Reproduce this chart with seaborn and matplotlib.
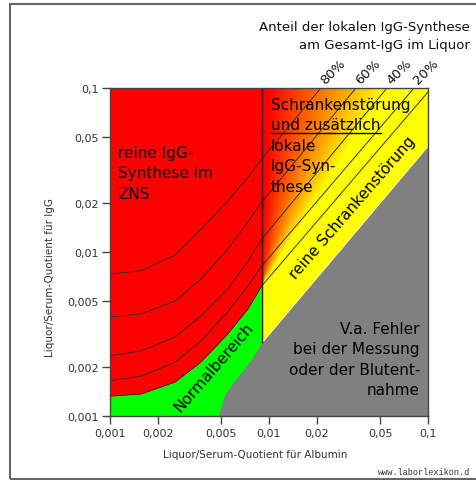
import numpy as np
import pandas as pd
import matplotlib
matplotlib.use("Agg")
import matplotlib.pyplot as plt
import seaborn as sns
from matplotlib.patches import Polygon, Rectangle
from matplotlib.lines import Line2D
from matplotlib.colors import LinearSegmentedColormap

# ---------------- data ----------------
tick_values = [0.001, 0.002, 0.005, 0.01, 0.02, 0.05, 0.1]
tick_labels = ["0,001", "0,002", "0,005", "0,01", "0,02", "0,05", "0,1"]

# Albumin quotient sample points of the curved part (left of the border line)
q_alb_curve = [0.001, 0.00157, 0.00257, 0.00373, 0.0055, 0.00738, 0.009]
q_igg_80 = [0.00734, 0.00769, 0.00959, 0.01374, 0.02046, 0.0285, 0.0369]
q_igg_60 = [0.00402, 0.00419, 0.00502, 0.00684, 0.01042, 0.01524, 0.02018]
q_igg_40 = [0.00233, 0.00249, 0.00303, 0.00407, 0.00594, 0.00881, 0.0120]
q_igg_20 = [0.00164, 0.00175, 0.00213, 0.00287, 0.00431, 0.00621, 0.00822]
q_igg_0 = [0.00132, 0.00136, 0.00161, 0.00213, 0.00316, 0.00449, 0.00621]
# albumin quotient where each percentage line leaves the plot at the top
pct_labels = ["80%", "60%", "40%", "20%"]
q_alb_top = [0.0212, 0.0352, 0.0552, 0.0817]
# 0% line at the right edge (Q_alb = 0.1)
q_igg_0_end = 0.0945
# lower (error) border
q_alb_low = [0.00478, 0.00504, 0.00529, 0.00585, 0.00657, 0.0076, 0.009, 0.1]
q_igg_low = [0.001, 0.00118, 0.00136, 0.00157, 0.0018, 0.00216, 0.00279, 0.0443]
# vertical border line (Q_alb)
q_alb_border = 0.009

# ---------------- style ----------------
sns.set_theme(style="white")
plt.rcParams["font.family"] = ["DejaVu Sans"]

RED, GREEN, YELLOW, GRAY = "#ff0000", "#00ff00", "#ffff00", "#808080"
LINE = "#2a2a2a"

fig = plt.figure(figsize=(4.76, 4.81), dpi=100)
ax = fig.add_axes([110 / 476, 1 - 417 / 481, 318 / 476, 328 / 481])
ax.set_xscale("log")
ax.set_yscale("log")
ax.set_xlim(0.001, 0.1)
ax.set_ylim(0.001, 0.1)
ax.set_facecolor("white")

# ---------------- regions ----------------
ax.fill_between(q_alb_curve, q_igg_0, 0.1, color=RED, lw=0, zorder=1)
ax.fill_between(q_alb_curve, 0.001, q_igg_0, color=GREEN, lw=0, zorder=1)
ax.fill_between(q_alb_low, 0.001, q_igg_low, color=GRAY, lw=0, zorder=2)
ax.fill([q_alb_border, 0.1, 0.1, q_alb_border],
        [q_igg_0[-1], q_igg_0_end, q_igg_low[-1], q_igg_low[-2]],
        color=YELLOW, lw=0, zorder=2)

# gradient region (red -> yellow) above the 0% line, right of the border
lx0, ly0 = np.log10(q_alb_border), np.log10(q_igg_0[-1])
lx1, ly1 = np.log10(0.1), np.log10(q_igg_0_end)
lx_edges = np.linspace(lx0, -1, 320)
ly_edges = np.linspace(ly0 - 0.05, -1, 320)
lxc = 0.5 * (lx_edges[:-1] + lx_edges[1:])
lyc = 0.5 * (ly_edges[:-1] + ly_edges[1:])
LX, LY = np.meshgrid(lxc, lyc)
x_e = lx0 + (LY - ly0) * (lx1 - lx0) / (ly1 - ly0)
t = (LX - lx0) / np.maximum(x_e - lx0, 1e-9)
G = np.clip((t - 0.04) / 0.70, 0, 1)
cmap = LinearSegmentedColormap.from_list("ry", [RED, "#ff8000", YELLOW])
mesh = ax.pcolormesh(10 ** lx_edges, 10 ** ly_edges, G, cmap=cmap,
                     vmin=0, vmax=1, shading="flat", zorder=2, lw=0)
clip = Polygon([(q_alb_border, q_igg_0[-1]), (0.1, q_igg_0_end), (0.1, 0.1),
                (q_alb_border, 0.1)], closed=True, transform=ax.transData,
               facecolor="none", edgecolor="none")
ax.add_patch(clip)
mesh.set_clip_path(clip)

# ---------------- lines ----------------
rows = []
for name, ys, xt in zip(pct_labels, [q_igg_80, q_igg_60, q_igg_40, q_igg_20],
                        q_alb_top):
    for x, y in zip(q_alb_curve + [xt], ys + [0.1]):
        rows.append((name, x, y))
for x, y in zip(q_alb_curve + [0.1], q_igg_0 + [q_igg_0_end]):
    rows.append(("0%", x, y))
df = pd.DataFrame(rows, columns=["curve", "alb", "igg"])
sns.lineplot(data=df, x="alb", y="igg", units="curve", estimator=None,
             sort=False, color=LINE, lw=0.65, ax=ax, zorder=4, legend=False)
ax.vlines(q_alb_border, q_igg_low[-2], 0.1, color="#111111", lw=1.0, zorder=4)

# ---------------- axes styling ----------------
ax.set_xticks(tick_values)
ax.set_xticklabels(tick_labels)
ax.set_yticks(tick_values)
ax.set_yticklabels(tick_labels)
ax.minorticks_off()
ax.tick_params(axis="both", which="major", direction="out", length=5.5,
               width=1.0, color="#444444", labelsize=8, labelcolor="#333333",
               left=True, bottom=True)
ax.tick_params(axis="x", pad=3.5)
ax.tick_params(axis="y", pad=2.8)
for s in ax.spines.values():
    s.set_visible(True)
    s.set_color("#444444")
    s.set_linewidth(1.0)
    s.set_zorder(6)

ax.set_xlabel("Liquor/Serum-Quotient für Albumin", fontsize=7.5,
              color="#333333", va="center")
ax.xaxis.set_label_coords((255 - 110) / 318, (417 - 455) / 328)
ax.set_ylabel("Liquor/Serum-Quotient für IgG", fontsize=7.5,
              color="#333333", va="center")
ax.yaxis.set_label_coords((50 - 110) / 318, (417 - 277.5) / 328)

# ---------------- texts ----------------
def axpos(px, py):
    return (px - 110) / 318, (417 - py) / 328

tx = dict(transform=ax.transAxes, fontsize=11, color="#000000", zorder=7)
ax.text(*axpos(118, 145.6), "reine IgG-\nSynthese im\nZNS", ha="left",
        va="top", linespacing=1.46, **tx)
ax.text(*axpos(271, 97.6),
        "Schrankenstörung\nund zusätzlich\nlokale\nIgG-Syn-\nthese",
        ha="left", va="top", linespacing=1.46, **tx)
ax.text(*axpos(420, 321.6), "V.a. Fehler\nbei der Messung\noder der Blutent-\nnahme",
        ha="right", va="top", multialignment="right", linespacing=1.46, **tx)
ax.text(*axpos(214, 368), "Normalbereich", ha="center", va="center",
        rotation=49, rotation_mode="anchor", **tx)
ax.text(*axpos(352, 208), "reine Schrankenstörung", ha="center", va="center",
        rotation=49, rotation_mode="anchor", **tx)

# underline of "und zusätzlich"
fig.add_artist(Line2D([271 / 476, 381 / 476], [1 - 134 / 481, 1 - 134 / 481],
                      color="#000000", lw=1.0, transform=fig.transFigure))

for lab, xt in zip(pct_labels, q_alb_top):
    ax.annotate(lab, xy=(xt, 0.1), xycoords="data", xytext=(8.6, 12.2),
                textcoords="offset points", rotation=45,
                rotation_mode="anchor", ha="center", va="center",
                fontsize=9.5, color="#111111", annotation_clip=False)

fig.text(470 / 476, 1 - 21 / 481,
         "Anteil der lokalen IgG-Synthese\nam Gesamt-IgG im Liquor",
         ha="right", va="top", multialignment="right", fontsize=9.5,
         linespacing=1.48, color="#111111")

fig.text(378 / 476, 1 - 473 / 481, "www.laborlexikon.d",
         family="Liberation Mono", fontsize=6.2, color="#333333",
         ha="left", va="center")

# frame around the image
fig.add_artist(Rectangle((10 / 476, 1 - 480 / 481), 1.0, 475 / 481,
                         transform=fig.transFigure, fill=False,
                         edgecolor="#666666", lw=1.5))

fig.savefig("out.png", dpi=100)
